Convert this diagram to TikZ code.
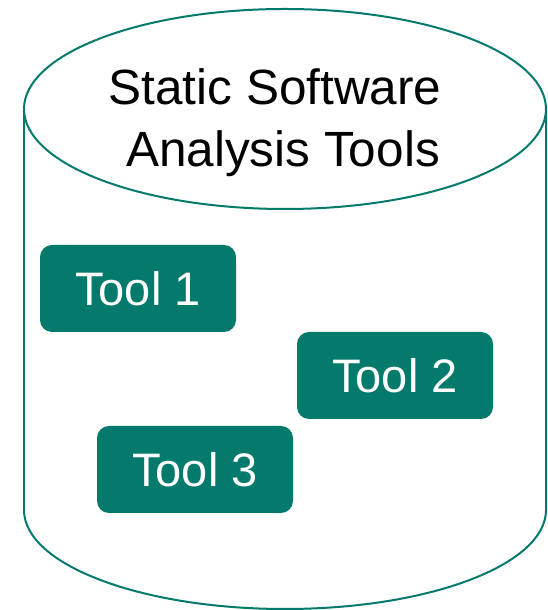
\documentclass[tikz,border=0pt]{standalone}
\usepackage{fontspec}
\setmainfont{Liberation Sans}
\definecolor{teal}{RGB}{3,122,108}
\begin{document}
\begin{tikzpicture}[x=1pt,y=1pt,
  toolbox/.style={fill=teal, draw=none, rounded corners=12pt,
    minimum width=196pt, minimum height=87pt, inner sep=0pt,
    text=white, font=\fontsize{47}{58}\selectfont},
  titletext/.style={anchor=base, inner sep=0pt, text=black,
    font=\fontsize{49.5}{60}\selectfont},
  rim/.style={draw=teal, line width=2pt}]
  \useasboundingbox (0,0) rectangle (548,610);
  % cylinder body: sides and the lower rim
  \draw[rim] (24,501) -- (24,100)
    arc[start angle=180, end angle=360, x radius=261, y radius=99]
    -- (546,501);
  % top face
  \draw[rim, fill=white] (285,501) ellipse[x radius=261, y radius=100];
  \node[titletext] (title1) at (275,505) {Static Software};
  \node[titletext] (title2) at (283,443) {Analysis Tools};
  % tools stored in the cylinder
  \node[toolbox] (tool1) at (138,321.5) {Tool 1};
  \node[toolbox] (tool2) at (395,234.5) {Tool 2};
  \node[toolbox] (tool3) at (195,140.5) {Tool 3};
\end{tikzpicture}
\end{document}
